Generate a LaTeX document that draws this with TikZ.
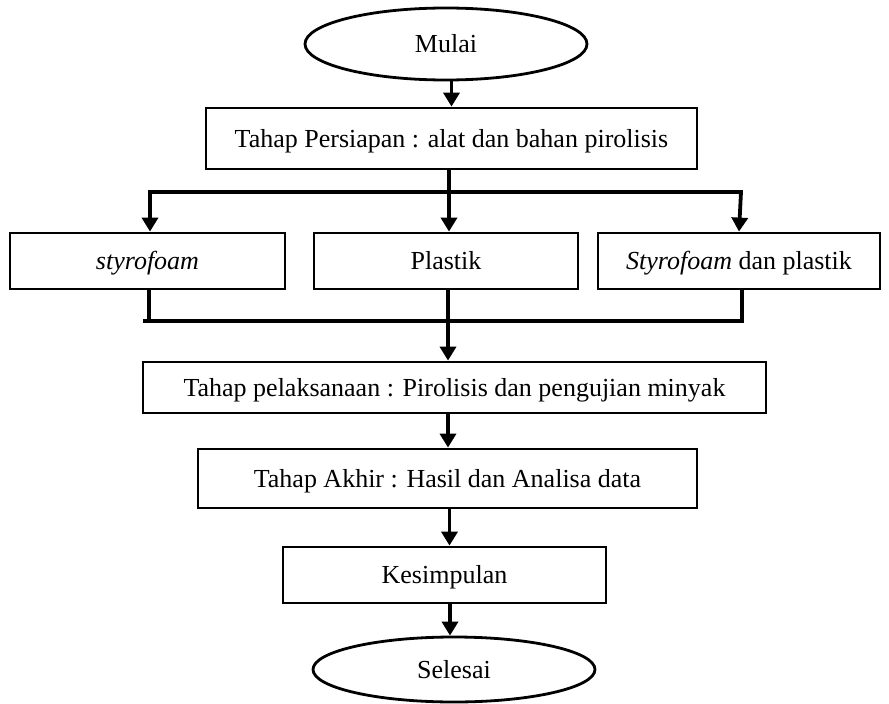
\documentclass[tikz,border=0pt]{standalone}
\usepackage{fontspec}
\setmainfont{Liberation Serif}
\usetikzlibrary{shapes.geometric,arrows.meta}
\begin{document}
\begin{tikzpicture}[x=1pt,y=-1pt,
  box/.style={draw,line width=2.8pt,rectangle,inner sep=0pt,anchor=center,
    text height=18pt,text depth=1pt,
    font=\fontsize{26}{30}\selectfont},
  oval/.style={draw,line width=2.8pt,ellipse,inner sep=0pt,anchor=center,
    text height=18pt,text depth=1pt,
    font=\fontsize{26}{30}\selectfont},
  conn/.style={line width=3.8pt},
  arr/.style={line width=3.8pt,-{Triangle[width=16pt,length=14pt]}},
]
\useasboundingbox (0,0) rectangle (889,704);
\fill[white] (0,0) rectangle (889,704);

\node[oval,minimum width=282pt,minimum height=72pt] (mulai) at (446,44) {Mulai};
\node[box,minimum width=491pt,minimum height=61pt] (persiapan) at (451.5,138.5) {Tahap Persiapan : alat dan bahan pirolisis};
\node[box,minimum width=275pt,minimum height=56pt] (sty) at (147.5,261) {\itshape styrofoam};
\node[box,minimum width=264pt,minimum height=56pt] (pla) at (446,261) {Plastik};
\node[box,minimum width=282pt,minimum height=56pt] (sdp) at (739,261) {\textit{Styrofoam} dan plastik};
\node[box,minimum width=623pt,minimum height=51pt] (pel) at (454.5,387.5) {Tahap pelaksanaan : Pirolisis dan pengujian minyak};
\node[box,minimum width=499pt,minimum height=59pt] (akh) at (447.5,478.5) {Tahap Akhir : Hasil dan Analisa data};
\node[box,minimum width=323pt,minimum height=56pt] (kes) at (444.5,575) {Kesimpulan};
\node[oval,minimum width=282pt,minimum height=65pt] (sel) at (454,669.5) {Selesai};

% start
\draw[arr] (mulai.south -| persiapan.north) -- (persiapan.north);

% upper bus
\coordinate (busA) at (449,192);
\coordinate (busAL) at (150,192);
\coordinate (busAR) at (741,192);
\draw[conn,line width=4.6pt] (persiapan.south -| busA) -- (busA);
\draw[conn] ([xshift=-1.9pt]busAL) -- ([xshift=1.9pt]busAR);
\draw[arr] (busAL) -- (busAL |- sty.north);
\draw[arr,line width=4.6pt] (busA) -- (busA |- pla.north);
\draw[arr] (busAR) -- ([xshift=-2pt]busAR |- sdp.north);

% lower bus
\coordinate (busB) at (448,321);
\coordinate (busBL) at (149,321);
\coordinate (busBR) at (742,321);
\draw[conn] (busBL |- sty.south) -- (busBL);
\draw[conn] (busBR |- sdp.south) -- (busBR);
\draw[conn] ([xshift=-6pt]busBL) -- ([xshift=1.9pt]busBR);
\draw[arr] (busB |- pla.south) -- (busB |- pel.north);

% lower chain
\draw[arr] (pel.south -| busB) -- (busB |- akh.north);
\draw[arr] ([xshift=2pt]akh.south) -- ([xshift=2pt]akh.south |- kes.north);
\draw[arr] (kes.south -| 450,0) -- (sel.north -| 450,0);
\end{tikzpicture}
\end{document}
